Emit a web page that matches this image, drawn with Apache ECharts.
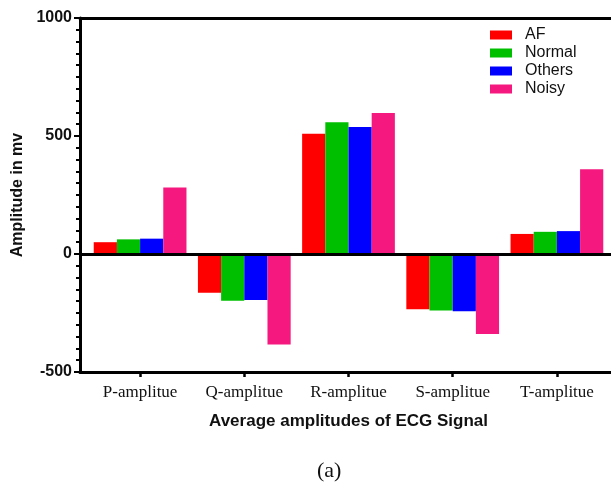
<!DOCTYPE html>
<html>
<head>
<meta charset="utf-8">
<script src="https://cdn.jsdelivr.net/npm/echarts@6/dist/echarts.min.js"></script>
<style>
  html, body { margin: 0; padding: 0; background: #fff; }
  #chart { width: 611px; height: 482px; }
</style>
</head>
<body>
<div id="chart"></div>
<script>
// data
var categories = ["P-amplitue", "Q-amplitue", "R-amplitue", "S-amplitue", "T-amplitue"];
var afValues = [50, -164, 510, -234, 85];
var normalValues = [62, -198, 558, -239, 94];
var othersValues = [65, -195, 538, -243, 97];
var noisyValues = [282, -383, 597, -339, 359];
var seriesNames = ["AF", "Normal", "Others", "Noisy"];
var seriesColors = ["#ff0000", "#00bf00", "#0000ff", "#f5187f"];
var yTicks = { min: -500, max: 1000, interval: 500 };

var chart = echarts.init(document.getElementById("chart"), null, { renderer: "canvas" });

var sans = "Liberation Sans";
var serif = "Liberation Serif";

function barSeries(name, values, color) {
  return {
    name: name,
    type: "bar",
    xAxisIndex: 2,
    yAxisIndex: 1,
    data: values,
    barGap: "0%",
    barCategoryGap: "11%",
    itemStyle: { color: color },
    emphasis: { disabled: true }
  };
}

var option = {
  animation: false,
  backgroundColor: "#fff",
  grid: [
    { left: 80, right: 0, top: 18, bottom: 110 },
    { left: 88, right: 2, top: 18, bottom: 110 }
  ],
  legend: {
    data: seriesNames,
    orient: "vertical",
    left: 485,
    top: 22,
    itemWidth: 22,
    itemHeight: 9,
    itemGap: 2,
    icon: "rect",
    textStyle: { fontFamily: sans, fontSize: 16, color: "#111", padding: [0, 0, 0, 8] }
  },
  xAxis: [
    {
      type: "value", gridIndex: 0, position: "bottom", min: 0, max: 1,
      axisLine: { show: true, onZero: false, lineStyle: { color: "#000", width: 3 } },
      axisTick: { show: false }, axisLabel: { show: false }, splitLine: { show: false }
    },
    {
      type: "value", gridIndex: 0, position: "top", min: 0, max: 1,
      axisLine: { show: true, onZero: false, lineStyle: { color: "#000", width: 3 } },
      axisTick: { show: false }, axisLabel: { show: false }, splitLine: { show: false }
    },
    {
      type: "category", gridIndex: 1, position: "bottom",
      data: categories,
      axisLine: { show: false, onZero: false },
      axisTick: { show: true, alignWithLabel: true, length: 5, lineStyle: { color: "#000", width: 2.5 } },
      axisLabel: { fontFamily: serif, fontSize: 17, color: "#111", margin: 12 },
      name: "Average amplitudes of ECG Signal",
      nameLocation: "middle",
      nameGap: 41,
      nameTextStyle: { fontFamily: sans, fontWeight: "bold", fontSize: 17, color: "#111" }
    }
  ],
  yAxis: [
    {
      type: "value", gridIndex: 0,
      min: yTicks.min, max: yTicks.max, interval: yTicks.interval,
      axisLine: { show: true, lineStyle: { color: "#000", width: 3 } },
      axisTick: { show: true, length: 6, lineStyle: { color: "#000", width: 2 } },
      minorTick: { show: true, splitNumber: 10, length: 4, lineStyle: { color: "#000", width: 2 } },
      axisLabel: {
        fontFamily: sans, fontWeight: "bold", fontSize: 16, color: "#111", margin: 8,
        formatter: function (v) { return String(v); }
      },
      splitLine: { show: false },
      name: "Amplitude in mv",
      nameLocation: "middle",
      nameGap: 42,
      nameTextStyle: { fontFamily: sans, fontWeight: "bold", fontSize: 16, color: "#111" }
    },
    {
      type: "value", gridIndex: 1, show: false,
      min: yTicks.min, max: yTicks.max, interval: yTicks.interval
    }
  ],
  series: [
    // zero line across the whole plot box
    {
      name: "zero",
      type: "line",
      xAxisIndex: 0,
      yAxisIndex: 0,
      data: [],
      silent: true,
      markLine: {
        silent: true,
        symbol: "none",
        label: { show: false },
        lineStyle: { color: "#000", width: 3, type: "solid" },
        data: [{ yAxis: 0 }]
      }
    },
    barSeries(seriesNames[0], afValues, seriesColors[0]),
    barSeries(seriesNames[1], normalValues, seriesColors[1]),
    barSeries(seriesNames[2], othersValues, seriesColors[2]),
    barSeries(seriesNames[3], noisyValues, seriesColors[3])
  ],
  graphic: [
    {
      type: "text",
      left: 317,
      top: 460,
      style: { text: "(a)", fontFamily: serif, fontSize: 22, fill: "#111" }
    }
  ]
};

chart.setOption(option);
</script>
</body>
</html>
